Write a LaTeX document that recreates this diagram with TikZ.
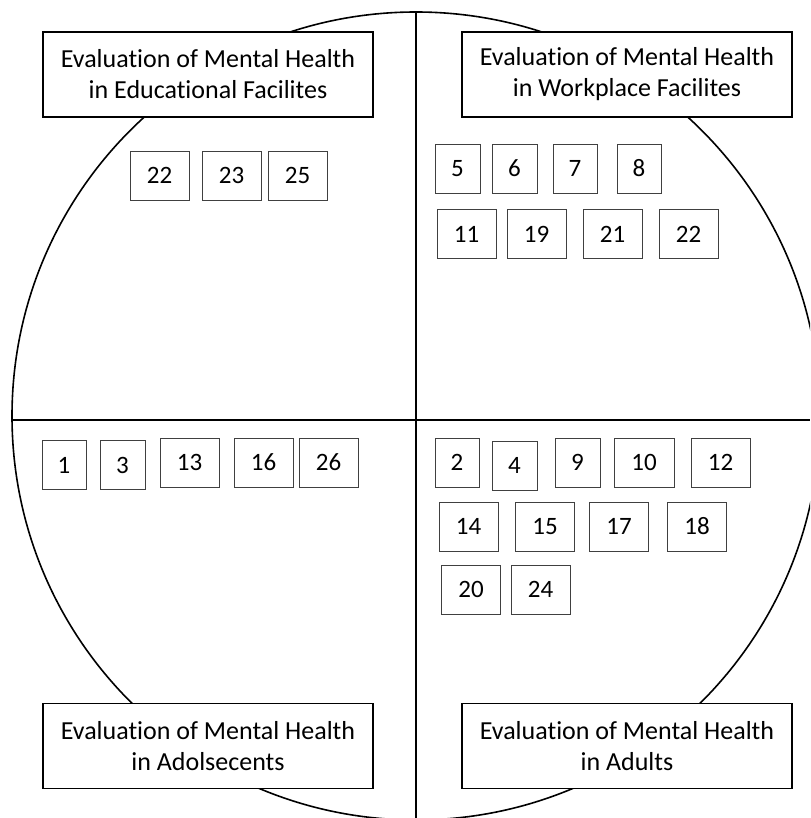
\documentclass[tikz,border=0pt]{standalone}
\usepackage{fontspec}
\setmainfont{Carlito}[Ligatures={NoCommon}]
\tikzset{
  titlebox/.style={draw, line width=1.6pt, fill=white, minimum width=330pt,
    minimum height=85pt, align=center, inner sep=0pt,
    font=\fontsize{26}{31}\selectfont},
  numbox/.style={draw=black!75, line width=0.9pt, fill=white, minimum height=49pt,
    inner sep=0pt, font=\fontsize{25}{28}\selectfont},
}
\begin{document}
\begin{tikzpicture}[x=1pt, y=-1pt]
            \useasboundingbox (0, 0) rectangle (810, 818);
            \begin{scope}
            \clip (0, 0) rectangle (810, 818);
            \draw[line width=1.6pt] (416, 416) circle (404);
            \end{scope}

            \coordinate (top) at (416, 12);
            \coordinate (bottom) at (416, 818);
            \coordinate (left) at (12, 420);
            \coordinate (right) at (810, 420);
            \draw[line width=1.6pt] (top) -- (bottom);
            \draw[line width=1.6pt] (left) -- (right);

            \node[titlebox] (edu) at (208, 74.5) {Evaluation of Mental Health\\in Educational Facilites};
            \node[titlebox] (work) at (627, 74.5) {Evaluation of Mental Health\\in Workplace Facilites};
            \node[titlebox] (teen) at (208, 746) {Evaluation of Mental Health\\in Adolsecents};
            \node[titlebox] (adult) at (627, 746) {Evaluation of Mental Health\\in Adults};

            % educational facilities
            \foreach \x/\y/\w/\n in {159.5/175.5/59/22, 231.5/175.5/59/23, 297.5/175.5/59/25}
                \node[numbox, minimum width=\w pt] (edu-\n) at (\x, \y) {\n};

            % workplace facilities
            \foreach \x/\y/\w/\n in {457.5/168.5/45/5, 514.5/168.5/45/6, 575/168.5/44/7,
                639/168.5/44/8, 466.5/234/59/11, 536.5/234/59/19, 612.5/234/59/21,
                688.5/234/59/22}
                \node[numbox, minimum width=\w pt] (work-\n) at (\x, \y) {\n};

            % adolescents
            \foreach \x/\y/\w/\n in {64/465/44/1, 122.5/465/45/3, 189.5/462.5/59/13,
                263.5/462.5/59/16, 328.5/462.5/59/26}
                \node[numbox, minimum width=\w pt] (teen-\n) at (\x, \y) {\n};

            % adults
            \foreach \x/\y/\w/\n in {457/462.5/44/2, 514.5/465.5/45/4, 577.5/462.5/45/9,
                644/462.5/60/10, 720.5/462.5/59/12, 468.5/526.5/59/14, 545/526.5/59/15,
                619/526.5/59/17, 697/526.5/59/18, 471/589.5/59/20, 540.5/589.5/59/24}
                \node[numbox, minimum width=\w pt] (adult-\n) at (\x, \y) {\n};
\end{tikzpicture}
\end{document}
